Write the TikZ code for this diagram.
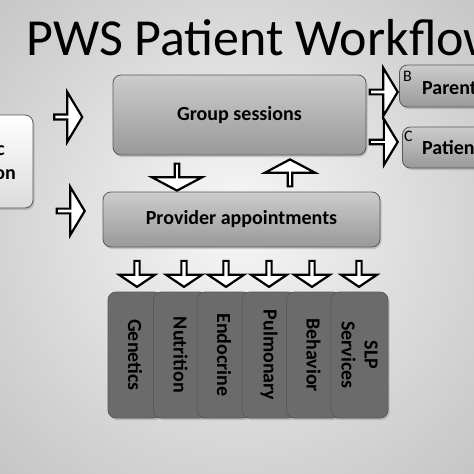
\documentclass[tikz,border=0pt]{standalone}
\usepackage{fontspec}
\setmainfont{Carlito}
\usetikzlibrary{shapes.arrows,shadows,positioning}
\pgfdeclareradialshading{bgglow}{\pgfpoint{0bp}{2bp}}{color(0bp)=(black!3); color(25bp)=(black!17); color(50bp)=(black!30)}

\begin{document}
\begin{tikzpicture}[
  x=1pt, y=-1pt,
  box/.style={draw=black!65, rounded corners=8pt, line width=0.8pt, align=center, inner sep=0pt,
    font=\bfseries\fontsize{20}{23}\selectfont,
    drop shadow={opacity=0.35, shadow xshift=1.5pt, shadow yshift=-2pt}},
  lightbox/.style={box, top color=white, bottom color=black!14},
  midbox/.style={box, top color=black!20, bottom color=black!40},
  darkbox/.style={box, fill=black!58, rotate=-90, minimum width=126pt, minimum height=54pt},
  bigarr/.style={single arrow, draw=black, fill=white, line width=2.2pt, inner sep=0pt,
    minimum height=28pt, minimum width=48pt, single arrow head extend=10pt, single arrow tip angle=118},
  vertarr/.style={bigarr, minimum width=50pt, minimum height=27pt, single arrow head extend=11pt, single arrow tip angle=124},
  smallarr/.style={bigarr, minimum height=26pt, minimum width=36pt, single arrow head extend=6.5pt,
    single arrow tip angle=112, shape border rotate=270},
  tag/.style={font=\fontsize{16}{16}\selectfont, inner sep=0pt},
  boxtxt/.style={font=\bfseries\fontsize{20}{23}\selectfont, inner sep=0pt}
]
\useasboundingbox (0,0) rectangle (474,474);
\clip (0,0) rectangle (474,474);
\shade[shading=bgglow] (0,0) rectangle (474,474);

\node[anchor=base west, inner sep=0pt, font=\fontsize{52}{52}\selectfont] (title) at (26,55) {PWS Patient Workflow};

% entry box, cut by the left edge
\node[lightbox, minimum width=80pt, minimum height=93pt] (entry) at (-7,161.5) {};
\node[boxtxt, anchor=east] (entryA) at (5,151) {c};
\node[boxtxt, anchor=east] (entryB) at (16,175) {on};

\node[bigarr, minimum width=50pt] (inG) at (67.5,117) {};
\node[bigarr] (inP) at (70,211) {};

\node[midbox, minimum width=253pt, minimum height=80pt] (group) at (239.5,115) {Group sessions};
\node[midbox, minimum width=277pt, minimum height=55pt] (prov) at (241.5,219.5) {Provider appointments};

\node[vertarr, shape border rotate=270] (gp) at (177,176.5) {};
\node[vertarr, shape border rotate=90] (pg) at (290,173.5) {};

% outcome boxes
\node[bigarr] (toB) at (383,92) {};
\node[bigarr, minimum width=46pt] (toC) at (383,142) {};
\node[midbox, anchor=west, minimum width=130pt, minimum height=42pt] (parent) at (399,86) {};
\node[midbox, anchor=west, minimum width=130pt, minimum height=41pt] (patient) at (402,147.5) {};
\node[tag, anchor=north west] (tagB) at (403,71) {B};
\node[boxtxt, anchor=west] (parentT) at (422,88) {Parent};
\node[tag, anchor=north west] (tagC) at (404,131) {C};
\node[boxtxt, anchor=west] (patientT) at (422,148) {Patient};

% provider arrows
\node[smallarr] (d1) at (137,273) {};
\node[smallarr] (d2) at (184,273) {};
\node[smallarr] (d3) at (226,273) {};
\node[smallarr] (d4) at (269,273) {};
\node[smallarr] (d5) at (312,273) {};
\node[smallarr] (d6) at (359,273) {};

% specialties
\node[darkbox] (gen) at (135,355) {Genetics};
\node[darkbox] (nut) at (180.5,355) {Nutrition};
\node[darkbox] (endo) at (224,355) {Endocrine};
\node[darkbox] (pulm) at (269,355) {Pulmonary};
\node[darkbox] (beh) at (313.5,355) {Behavior};
\node[darkbox, minimum height=57pt] (slp) at (359.5,355) {SLP\\Services};
\end{tikzpicture}
\end{document}
